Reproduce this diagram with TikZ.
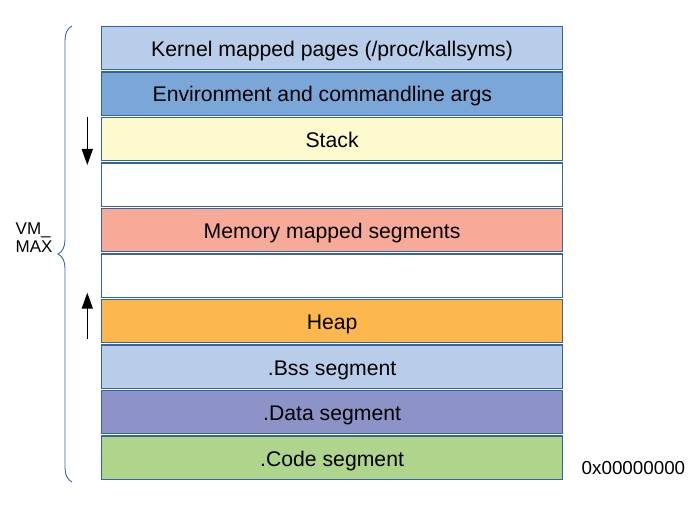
\documentclass[tikz,border=0pt]{standalone}
\usepackage{fontspec}
\setmainfont{Liberation Sans}
\usetikzlibrary{arrows.meta,decorations.pathreplacing}
\definecolor{bord}{RGB}{52,101,164}
\definecolor{cKern}{RGB}{183,205,233}
\definecolor{cEnv}{RGB}{122,167,216}
\definecolor{cStack}{RGB}{255,249,206}
\definecolor{cMmap}{RGB}{247,170,151}
\definecolor{cHeap}{RGB}{252,183,79}
\definecolor{cBss}{RGB}{183,205,233}
\definecolor{cData}{RGB}{142,147,199}
\definecolor{cCode}{RGB}{175,212,139}
\tikzset{
  seg/.style={draw=bord, line width=1.2pt, minimum width=461pt, minimum height=43.3pt,
    inner sep=0pt, text height=17.7pt, text depth=1pt,
    anchor=north west, font=\fontsize{21.2}{24}\selectfont},
  growarrow/.style={line width=1.5pt, -{Triangle[length=16pt,width=11pt]}},
  side/.style={inner sep=0pt, font=\fontsize{18.8}{22}\selectfont},
}
\begin{document}
\begin{tikzpicture}[x=1pt,y=1pt]
\useasboundingbox (0,0) rectangle (697,516);
% boxes (y measured from top: 516 - top)
\node[seg, fill=cKern]  (kern)  at (101,490)   {Kernel mapped pages (/proc/kallsyms)};
\node[seg, fill=cEnv, text depth=3.1pt] (env) at (101,444.5) {\hspace*{-19.6pt}Environment and commandline args};
\node[seg, fill=cStack] (stack) at (101,399)   {Stack};
\node[seg, fill=white]  (gap1)  at (101,353.5) {};
\node[seg, fill=cMmap]  (mmap)  at (101,308)   {Memory mapped segments};
\node[seg, fill=white]  (gap2)  at (101,262.5) {};
\node[seg, fill=cHeap]  (heap)  at (101,217)   {Heap};
\node[seg, fill=cBss]   (bss)   at (101,171.5) {.Bss segment};
\node[seg, fill=cData]  (data)  at (101,126)   {.Data segment};
\node[seg, fill=cCode]  (code)  at (101,80.5)  {.Code segment};
% growth arrows
\coordinate (sdA) at (87.3,399);
\coordinate (sdB) at (87.3,351);
\draw[growarrow] (sdA) -- (sdB);
\coordinate (huA) at (87.3,177);
\coordinate (huB) at (87.3,223.3);
\draw[growarrow] (huA) -- (huB);
% brace
\coordinate (brB) at (72,34);
\coordinate (brT) at (72,490);
\draw[bord, line width=0.9pt, decorate, decoration={brace, amplitude=14pt}] (brB) -- (brT);
% labels
\node[side, anchor=base west, align=left, font=\fontsize{17}{17.7}\selectfont] (vm) at (15.5,263.7) {VM\_\\MAX};
\node[side, anchor=base west] (zero) at (581.5,41.3) {0x00000000};
\end{tikzpicture}
\end{document}
